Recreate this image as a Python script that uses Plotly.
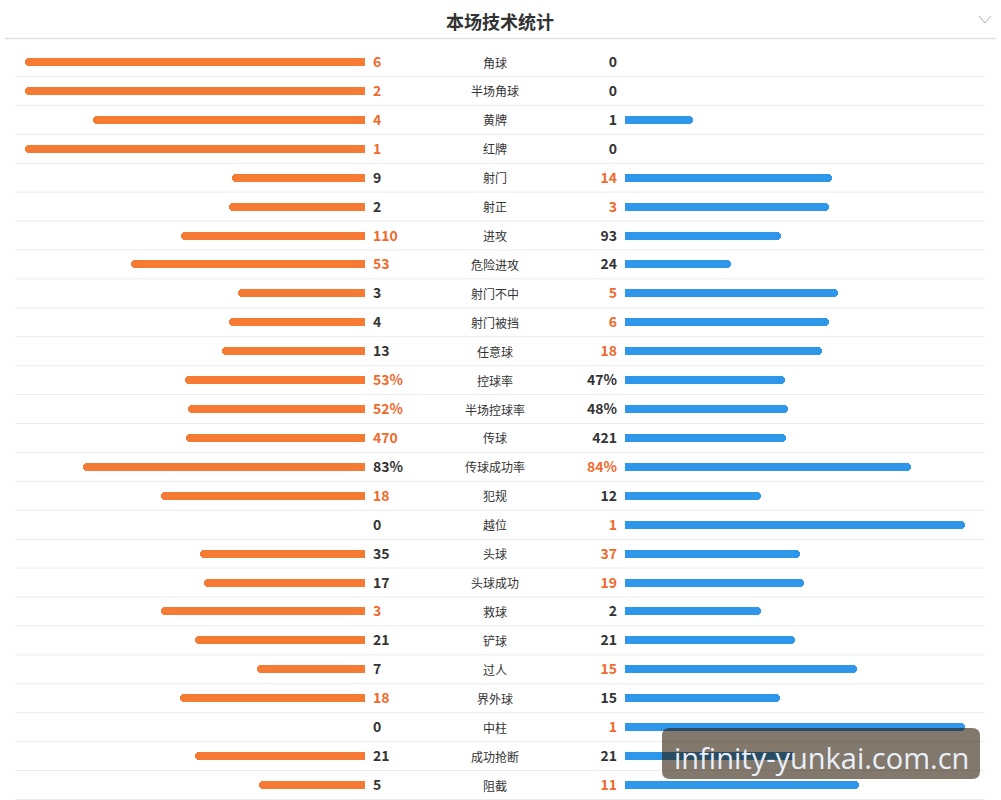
import plotly.graph_objects as go

# ---------------- data ----------------
labels = ["角球", "半场角球", "黄牌", "红牌", "射门", "射正", "进攻", "危险进攻",
          "射门不中", "射门被挡", "任意球", "控球率", "半场控球率", "传球", "传球成功率",
          "犯规", "越位", "头球", "头球成功", "救球", "铲球", "过人", "界外球", "中柱",
          "成功抢断", "阻截"]
home = [6, 2, 4, 1, 9, 2, 110, 53, 3, 4, 13, 53, 52, 470, 83, 18, 0, 35, 17, 3, 21, 7, 18, 0, 21, 5]
away = [0, 0, 1, 0, 14, 3, 93, 24, 5, 6, 18, 47, 48, 421, 84, 12, 1, 37, 19, 2, 21, 15, 15, 1, 21, 11]
is_pct = [False] * 11 + [True, True, False, True] + [False] * 11

# ---------------- styling ----------------
W, H = 1001, 800
ROW0, ROWH = 62, 28.92
BAR_MAX = 340
L_EDGE, R_EDGE = 365, 625
ORANGE = "#F57A34"
BLUE = "#2E97EA"
HI = "#EF6A2C"
DARK = "#333333"
FONT = "Noto Sans CJK SC"


def ypix_to_paper(yp):
    return 1 - yp / H


n = len(labels)
ys = list(range(n))
num_y = [y + 1.5 / ROWH for y in ys]   # small baseline nudge for CJK font metrics
lab_y = [y + 2.5 / ROWH for y in ys]

# shares of bar length
hs, as_ = [], []
for h, a, p in zip(home, away, is_pct):
    if p:
        hs.append(h / 100)
        as_.append(a / 100)
    else:
        t = h + a
        hs.append(h / t if t else 0)
        as_.append(a / t if t else 0)

hlen = [s * BAR_MAX for s in hs]
alen = [s * BAR_MAX for s in as_]

fmt = lambda v, p: f"{v}%" if p else f"{v}"
htxt = [fmt(v, p) for v, p in zip(home, is_pct)]
atxt = [fmt(v, p) for v, p in zip(away, is_pct)]
hcol = [HI if h > a else DARK for h, a in zip(home, away)]
acol = [HI if a > h else DARK for h, a in zip(home, away)]

bw = 8 / ROWH

fig = go.Figure()
# left bars (rounded), plus square caps at the inner end
fig.add_trace(go.Bar(orientation="h", y=ys, x=hlen, base=[L_EDGE - v for v in hlen],
                     width=bw, marker=dict(color=ORANGE, cornerradius=4, line_width=0),
                     hoverinfo="skip", showlegend=False))
fig.add_trace(go.Bar(orientation="h", y=ys, x=[min(v, 6) for v in hlen],
                     base=[L_EDGE - min(v, 6) for v in hlen],
                     width=bw, marker=dict(color=ORANGE, line_width=0),
                     hoverinfo="skip", showlegend=False))
# right bars
fig.add_trace(go.Bar(orientation="h", y=ys, x=alen, base=[R_EDGE] * n,
                     width=bw, marker=dict(color=BLUE, cornerradius=4, line_width=0),
                     hoverinfo="skip", showlegend=False))
fig.add_trace(go.Bar(orientation="h", y=ys, x=[min(v, 6) for v in alen], base=[R_EDGE] * n,
                     width=bw, marker=dict(color=BLUE, line_width=0),
                     hoverinfo="skip", showlegend=False))

# numbers and labels
fig.add_trace(go.Scatter(x=[373] * n, y=num_y, mode="text", text=htxt, textposition="middle right",
                         textfont=dict(family=FONT, size=14, color=hcol, weight="bold"),
                         hoverinfo="skip", showlegend=False))
fig.add_trace(go.Scatter(x=[617] * n, y=num_y, mode="text", text=atxt, textposition="middle left",
                         textfont=dict(family=FONT, size=14, color=acol, weight="bold"),
                         hoverinfo="skip", showlegend=False))
fig.add_trace(go.Scatter(x=[495] * n, y=lab_y, mode="text", text=labels, textposition="middle center",
                         textfont=dict(family=FONT, size=12, color=DARK),
                         hoverinfo="skip", showlegend=False))

shapes = []
# row separators
for i in range(n):
    shapes.append(dict(type="line", xref="x", yref="y", x0=15, x1=985, y0=i + 0.5, y1=i + 0.5,
                       line=dict(color="#ECECEC", width=1), layer="below"))
# header divider
shapes.append(dict(type="line", xref="paper", yref="paper", x0=0.005, x1=0.995,
                   y0=ypix_to_paper(38.5), y1=ypix_to_paper(38.5),
                   line=dict(color="#E2E2E2", width=1.5)))
# chevron
shapes.append(dict(type="path", xref="x", yref="paper",
                   path=f"M 979 {ypix_to_paper(16)} L 985 {ypix_to_paper(23)} L 991 {ypix_to_paper(16)}",
                   line=dict(color="#B0B0B0", width=1)))
# watermark box (rounded)
x0, x1, y0p, y1p, r = 662, 980, 728, 779, 8
def P(x, yp):
    return f"{x} {ypix_to_paper(yp)}"
path = (f"M {P(x0 + r, y0p)} L {P(x1 - r, y0p)} Q {P(x1, y0p)} {P(x1, y0p + r)} "
        f"L {P(x1, y1p - r)} Q {P(x1, y1p)} {P(x1 - r, y1p)} L {P(x0 + r, y1p)} "
        f"Q {P(x0, y1p)} {P(x0, y1p - r)} L {P(x0, y0p + r)} Q {P(x0, y0p)} {P(x0 + r, y0p)} Z")
shapes.append(dict(type="path", xref="x", yref="paper", path=path,
                   fillcolor="rgba(40,22,0,0.58)", line=dict(width=0), layer="above"))

annotations = [
    dict(text="<b>本场技术统计</b>", x=500, xref="x", y=ypix_to_paper(21), yref="paper",
         showarrow=False, font=dict(family=FONT, size=18, color="#333333"),
         xanchor="center", yanchor="middle"),
    dict(text="infinity-yunkai.com.cn", x=(x0 + x1) / 2, xref="x", y=ypix_to_paper(757), yref="paper",
         showarrow=False, font=dict(family="Open Sans", size=29, color="#EAF0FA"),
         xanchor="center", yanchor="middle"),
]

fig.update_layout(
    width=W, height=H, margin=dict(l=0, r=0, t=0, b=0),
    paper_bgcolor="white", plot_bgcolor="white",
    barmode="overlay", bargap=0,
    xaxis=dict(range=[0, W], visible=False, fixedrange=True),
    yaxis=dict(range=[(H - ROW0) / ROWH, -ROW0 / ROWH], visible=False, fixedrange=True),
    shapes=shapes, annotations=annotations,
)

fig.write_html("out.html")
